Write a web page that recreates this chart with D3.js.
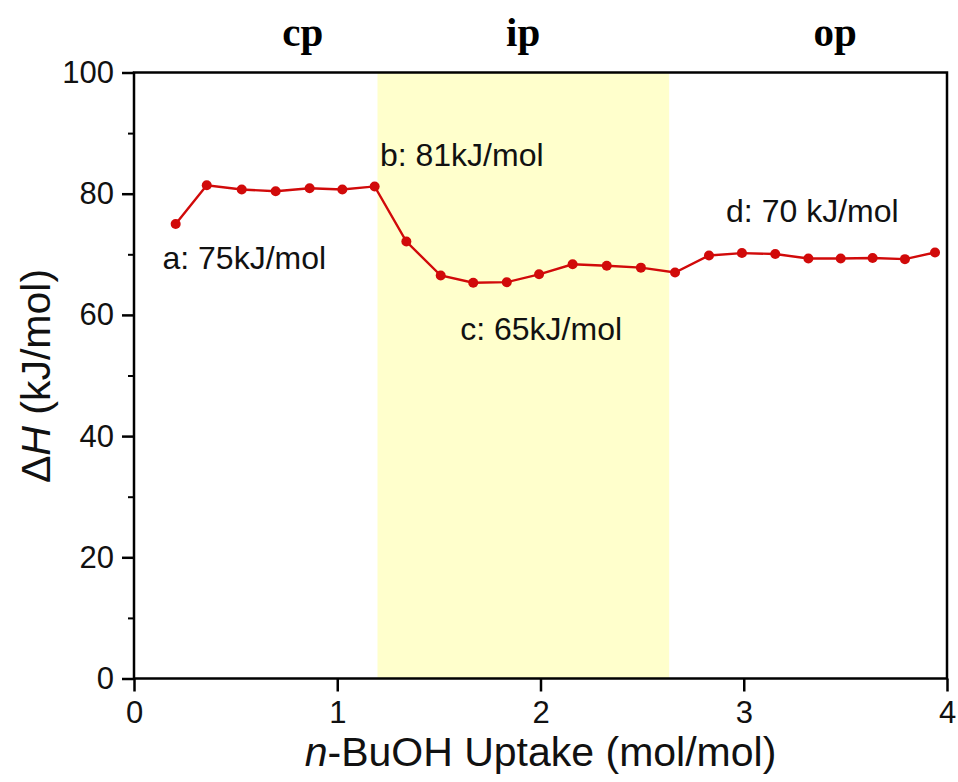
<!DOCTYPE html>
<html>
<head>
<meta charset="utf-8">
<script src="https://cdn.jsdelivr.net/npm/d3@7"></script>
<style>
  html, body { margin: 0; padding: 0; background: #fff; }
  svg { display: block; }
</style>
</head>
<body>
<svg id="chart" width="958" height="782"></svg>
<script>
// n-BuOH uptake (mol/mol) and isosteric heat of adsorption ΔH (kJ/mol)
const uptake = [0.205, 0.358, 0.530, 0.697, 0.864, 1.025, 1.184, 1.340, 1.509, 1.669, 1.834, 1.993,
                2.158, 2.326, 2.494, 2.662, 2.829, 2.991, 3.155, 3.318, 3.477, 3.634, 3.793, 3.941];
const deltaH = [75.0, 81.4, 80.7, 80.4, 80.9, 80.7, 81.2, 72.1, 66.5, 65.3, 65.4, 66.7,
                68.35, 68.1, 67.8, 67.0, 69.8, 70.2, 70.05, 69.3, 69.3, 69.4, 69.2, 70.3];

// shaded intermediate-phase uptake window
const ipRange = [1.198, 2.633];

// phase names above the frame, with the uptake they sit over
const phaseNames = ["cp", "ip", "op"];
const phaseAt = [0.83, 1.915, 3.45];

// annotated plateau values: text, uptake, ΔH anchor (text baseline)
const noteText = ["a: 75kJ/mol", "b: 81kJ/mol", "c: 65kJ/mol", "d: 70 kJ/mol"];
const noteX = [0.14, 1.21, 1.605, 2.913];
const noteY = [67.6, 84.5, 55.8, 75.3];

const xTicks = [0, 1, 2, 3, 4];
const yTicks = [0, 20, 40, 60, 80, 100];
const yMinor = [10, 30, 50, 70, 90];

const svg = d3.select("#chart");
const plotLeft = 134, plotRight = 947, plotTop = 72.5, plotBottom = 678.5;

const x = d3.scaleLinear().domain([0, 4]).range([plotLeft, plotRight]);
const y = d3.scaleLinear().domain([0, 100]).range([plotBottom, plotTop]);

const font = "'Liberation Sans', Arial, sans-serif";
const red = "#d10a0a";

// highlighted ip region
svg.append("rect")
  .attr("x", x(ipRange[0]))
  .attr("y", y(100))
  .attr("width", x(ipRange[1]) - x(ipRange[0]))
  .attr("height", y(0) - y(100))
  .attr("fill", "#ffffcc");

// frame
svg.append("rect")
  .attr("x", plotLeft).attr("y", plotTop)
  .attr("width", plotRight - plotLeft).attr("height", plotBottom - plotTop)
  .attr("fill", "none").attr("stroke", "#000").attr("stroke-width", 2.5);

// x axis
const xAxis = d3.axisBottom(x).tickValues(xTicks).tickSize(13).tickPadding(9)
  .tickFormat(d3.format("d"));
const gx = svg.append("g").attr("transform", `translate(0,${plotBottom})`).call(xAxis);
gx.select(".domain").remove();
gx.selectAll(".tick line").attr("stroke", "#000").attr("stroke-width", 2.5);
gx.selectAll(".tick text").attr("font-family", font).attr("font-size", 31).attr("fill", "#111");

// y axis major
const yAxis = d3.axisLeft(y).tickValues(yTicks).tickSize(12).tickPadding(8)
  .tickFormat(d3.format("d"));
const gy = svg.append("g").attr("transform", `translate(${plotLeft},0)`).call(yAxis);
gy.select(".domain").remove();
gy.selectAll(".tick line").attr("stroke", "#000").attr("stroke-width", 2.5);
gy.selectAll(".tick text").attr("font-family", font).attr("font-size", 31).attr("fill", "#111");

// y axis minor
const gym = svg.append("g").attr("transform", `translate(${plotLeft},0)`)
  .call(d3.axisLeft(y).tickValues(yMinor).tickSize(6).tickFormat(""));
gym.select(".domain").remove();
gym.selectAll(".tick line").attr("stroke", "#000").attr("stroke-width", 2);

// data line and markers
const line = d3.line().x((d, i) => x(uptake[i])).y(d => y(d));
svg.append("path")
  .datum(deltaH)
  .attr("d", line)
  .attr("fill", "none")
  .attr("stroke", red)
  .attr("stroke-width", 2.4);

svg.append("g").selectAll("circle")
  .data(deltaH)
  .join("circle")
  .attr("cx", (d, i) => x(uptake[i]))
  .attr("cy", d => y(d))
  .attr("r", 5)
  .attr("fill", red);

// plateau annotations
svg.append("g").selectAll("text")
  .data(noteText)
  .join("text")
  .attr("x", (d, i) => x(noteX[i]))
  .attr("y", (d, i) => y(noteY[i]))
  .attr("font-family", font)
  .attr("font-size", 32)
  .attr("fill", "#111")
  .text(d => d);

// phase names
svg.append("g").selectAll("text")
  .data(phaseNames)
  .join("text")
  .attr("x", (d, i) => x(phaseAt[i]))
  .attr("y", 46)
  .attr("text-anchor", "middle")
  .attr("font-family", "'Liberation Serif', 'Times New Roman', serif")
  .attr("font-weight", "bold")
  .attr("font-size", 41)
  .attr("fill", "#000")
  .text(d => d);

// x axis title
const xt = svg.append("text")
  .attr("x", (plotLeft + plotRight) / 2)
  .attr("y", 766)
  .attr("text-anchor", "middle")
  .attr("font-family", font)
  .attr("font-size", 41)
  .attr("fill", "#111");
xt.append("tspan").attr("font-style", "italic").text("n");
xt.append("tspan").text("-BuOH Uptake (mol/mol)");

// y axis title
const yt = svg.append("text")
  .attr("transform", `translate(50,376) rotate(-90)`)
  .attr("text-anchor", "middle")
  .attr("font-family", font)
  .attr("font-size", 41)
  .attr("fill", "#111");
yt.append("tspan").text("Δ");
yt.append("tspan").attr("font-style", "italic").text("H");
yt.append("tspan").text(" (kJ/mol)");
</script>
</body>
</html>
